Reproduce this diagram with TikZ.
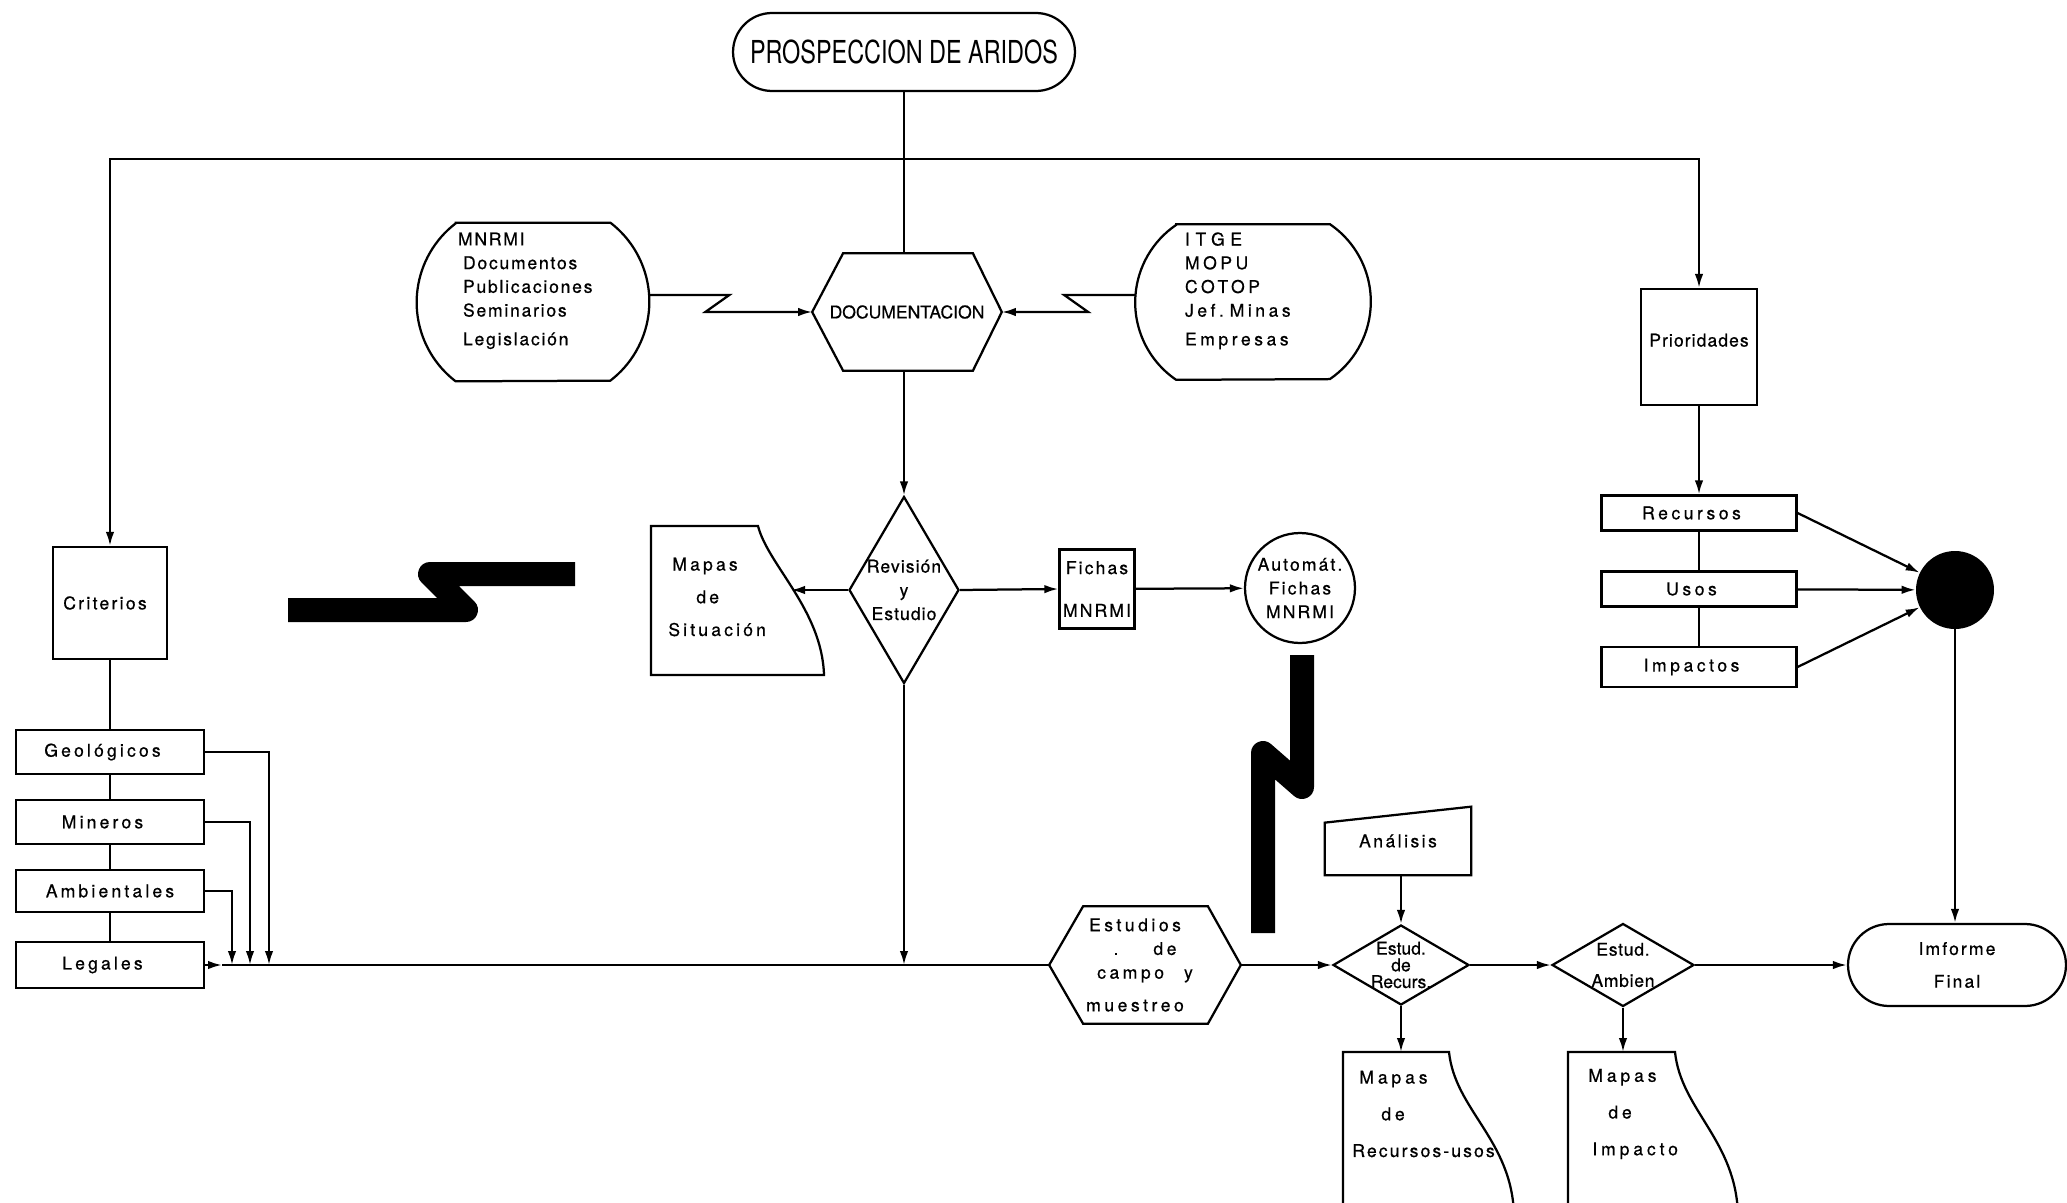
\documentclass[tikz,border=0pt]{standalone}
\usepackage{fontspec}
\setmainfont{TeX Gyre Heros}[FakeBold=0.6]
\newfontfamily\titlefont{TeX Gyre Heros}[FakeStretch=0.74]
\usetikzlibrary{arrows.meta,shapes.geometric,shapes.misc}
\newcommand\lett[1]{\fontsize{10}{13.5}\selectfont\addfontfeatures{LetterSpace=#1}}

\begin{document}
\begin{tikzpicture}[x=0.02cm,y=-0.02cm,
    ln/.style={line width=0.045cm},
    arr/.style={ln,-{Latex[length=0.28cm,width=0.17cm]}},
    blank/.style={rectangle,inner sep=0pt,align=center},
    boxed/.style={draw,ln,rectangle,inner sep=0pt,align=center},
    pill/.style={draw,ln,rounded rectangle,inner sep=0pt,align=center},
    dia/.style={draw,ln,diamond,inner sep=-2pt,align=center},
    maptext/.style={inner sep=0pt,align=left,anchor=west},
    bolt/.style={line width=0.48cm,line join=round}]
    \useasboundingbox (0,0) rectangle (2067,1203);
    \clip (0,0) rectangle (2067,1203);

    % Marking title and top bus
    \node[pill,minimum width=6.84cm,minimum height=1.56cm,font=\titlefont\fontsize{18}{20}\selectfont] (title) at (904,52) {PROSPECCION DE ARIDOS};%
    \coordinate (tee) at (904,159);%

    % Drawing hexagon DOCUMENTACION
    \node[blank,minimum width=3.78cm,minimum height=2.34cm,font=\lett{0}] (doc) at (907,312) {DOCUMENTACION};%
    \draw[ln] (doc.west) -- ([xshift=0.62cm]doc.north west) -- ([xshift=-0.58cm]doc.north east) -- (doc.east)
        -- ([xshift=-0.58cm]doc.south east) -- ([xshift=0.62cm]doc.south west) -- cycle;%
    \draw[ln] (title.south) -- (title.south |- doc.north);%

    % Drawing sources left and right
    \node[blank,minimum width=4.64cm,minimum height=3.16cm,text width=2.8cm,align=left,font=\lett{10}] (srcL) at (533,302)
        {\hspace*{-0.1cm}MNRMI\\Documentos\\Publicaciones\\Seminarios\\[0.1cm]Legislación\\[0.05cm]~};%
    \draw[ln] ([xshift=0.78cm]srcL.north west) -- ([xshift=-0.78cm]srcL.north east) arc[start angle=52.56,end angle=-52.56,radius=1.99cm]
        -- ([xshift=0.78cm]srcL.south west) arc[start angle=232.56,end angle=127.44,radius=1.99cm] -- cycle;%
    \node[blank,minimum width=4.7cm,minimum height=3.1cm,text width=2.72cm,align=left,font=\lett{20}] (srcR) at (1253,302)
        {{\addfontfeatures{LetterSpace=32}ITGE}\\MOPU\\COTOP\\Jef.~Minas\\[0.1cm]Empresas\\[0.05cm]~};%
    \draw[ln] ([xshift=0.82cm]srcR.north west) -- ([xshift=-0.82cm]srcR.north east) arc[start angle=55.75,end angle=-55.75,radius=1.875cm]
        -- ([xshift=0.82cm]srcR.south west) arc[start angle=235.75,end angle=124.25,radius=1.875cm] -- cycle;%
    \draw[arr] ([yshift=0.14cm]srcL.east) -- ++(80,0) -- ++(-24,17) -- (doc.west);%
    \draw[arr] ([yshift=0.14cm]srcR.west) -- ++(-71,0) -- ++(24,17) -- (doc.east);%

    % Drawing Revision, maps and fichas
    \node[dia,aspect=0.59,minimum width=2.2cm,minimum height=3.74cm,font=\lett{6}] (rev) at (904,590) {Revisión\\y\\Estudio};%
    \draw[arr] (doc.south -| rev.north) -- (rev.north);%
    \draw[ln] (651,526) -- (758,526) .. controls (768,565) and (822,610) .. (824,675) -- (651,675) -- cycle;%
    \node[maptext,font=\lett{18}] (sit) at (668,597) {\hspace*{0.08cm}Mapas\\[0.18cm]\hspace*{0.56cm}de\\[0.18cm]Situación};%
    \coordinate (sitIn) at (791,590);%
    \draw[arr] (rev.west) -- (sitIn);%
    \node[boxed,minimum width=1.5cm,minimum height=1.58cm,font=\lett{12}] (fich) at (1097,589) {Fichas\\[0.38cm]MNRMI};%
    \draw[arr] (rev.east) -- (fich.west);%
    \node[draw,ln,circle,minimum size=2.2cm,inner sep=0pt,align=center,font=\lett{12}] (auto) at (1300,588) {Automát.\\Fichas\\MNRMI};%
    \draw[arr] (fich) -- (auto);%

    % Drawing the two bolts
    \draw[bolt] (288,610) -- (466,610) -- (430,574) -- (575,574);%
    \draw[bolt] (1302,655) -- (1302,787) -- (1263,753) -- (1263,933);%

    % Drawing column Criterios
    \node[boxed,minimum width=2.28cm,minimum height=2.24cm,font=\lett{13}] (crit) at (110,603) {Criterios\hspace*{0.2cm}};%
    \node[boxed,minimum width=3.76cm,minimum height=0.88cm,font=\lett{18}] (geo) at (110,752) {Geológicos\hspace*{0.3cm}};%
    \node[boxed,minimum width=3.76cm,minimum height=0.88cm,font=\lett{18}] (mine) at (110,822) {Mineros\hspace*{0.3cm}};%
    \node[boxed,minimum width=3.76cm,minimum height=0.84cm,font=\lett{18}] (amb) at (110,891) {Ambientales};%
    \node[boxed,minimum width=3.76cm,minimum height=0.92cm,font=\lett{18}] (leg) at (110,965) {Legales\hspace*{0.3cm}};%
    \draw[arr] (tee) -| (crit);%
    \draw[ln] (crit) -- (geo);%
    \draw[ln] (geo) -- (mine);%
    \draw[ln] (mine) -- (amb);%
    \draw[ln] (amb) -- (leg);%
    \coordinate (busW) at (222,965);%
    \coordinate (jA) at (232,965);%
    \coordinate (jM) at (250,965);%
    \coordinate (jG) at (269,965);%
    \draw[arr] (geo) -| (jG);%
    \draw[arr] (mine) -| (jM);%
    \draw[arr] (amb) -| (jA);%
    \draw[arr] (leg) -- (busW);%
    \draw[arr] (rev) -- (rev |- busW);%

    % Drawing hexagon Estudios and the chain to Informe
    \node[blank,minimum width=3.82cm,minimum height=2.34cm,font=\lett{20}] (est) at (1145,965)
        {Estudios\hspace*{0.4cm}\\.\hspace{0.7cm}de\hspace*{0.4cm}\\campo\hspace{0.4cm}y\hspace*{0.4cm}\\[0.18cm]muestreo\hspace*{0.4cm}};%
    \draw[ln] (est.west) -- ([xshift=0.68cm]est.north west) -- ([xshift=-0.66cm]est.north east) -- (est.east)
        -- ([xshift=-0.66cm]est.south east) -- ([xshift=0.68cm]est.south west) -- cycle;%
    \draw[ln] (busW) -- (est.west);%
    \node[blank,minimum width=2.92cm,minimum height=1.36cm,font=\lett{14}] (ana) at (1398,841) {Análisis};%
    \draw[ln] (ana.south west) -- (ana.south east) -- (ana.north east) -- ([yshift=-0.32cm]ana.north west) -- cycle;%
    \node[dia,aspect=1.7,minimum width=2.72cm,minimum height=1.6cm,font=\fontsize{10}{9.5}\selectfont] (estR) at (1401,965) {Estud.\\de\\Recurs.};%
    \node[dia,aspect=1.71,minimum width=2.84cm,minimum height=1.66cm,font=\lett{4}] (estA) at (1623,965) {Estud.\\[0.15cm]Ambien};%
    \node[pill,minimum width=4.36cm,minimum height=1.64cm,font=\lett{12}] (inf) at (1957,965) {Imforme\\[0.18cm]Final};%
    \draw[arr] (ana.south -| estR.north) -- (estR.north);%
    \draw[arr] (est) -- (estR);%
    \draw[arr] (estR) -- (estA);%
    \draw[arr] (estA) -- (inf);%

    % Drawing maps of resources and impact
    \draw[ln] (1343,1215) -- (1343,1052) -- (1449,1052) .. controls (1455,1110) and (1512,1140) .. (1514,1215);%
    \node[maptext,font=\lett{22}] (mapR) at (1352,1114)
        {\hspace*{0.14cm}Mapas\\[0.26cm]\hspace*{0.58cm}de\\[0.26cm]{\addfontfeatures{LetterSpace=12}Recursos-usos}};%
    \coordinate (mapRtop) at (1401,1052);%
    \draw[arr] (estR) -- (mapRtop);%
    \draw[ln] (1568,1215) -- (1568,1052) -- (1675,1052) .. controls (1681,1110) and (1736,1140) .. (1738,1215);%
    \node[maptext,font=\lett{22}] (mapI) at (1588,1114) {Mapas\\[0.26cm]\hspace*{0.4cm}de\\[0.26cm]\hspace*{0.08cm}Impacto};%
    \coordinate (mapItop) at (1623,1052);%
    \draw[arr] (estA) -- (mapItop);%

    % Drawing column Prioridades
    \node[boxed,minimum width=2.32cm,minimum height=2.32cm,font=\lett{6}] (prio) at (1699,347) {Prioridades\\[-0.2cm]~};%
    \node[boxed,minimum width=3.9cm,minimum height=0.7cm,font=\lett{20}] (rec) at (1699,513) {Recursos\hspace*{0.3cm}};%
    \node[boxed,minimum width=3.9cm,minimum height=0.7cm,font=\lett{20}] (usos) at (1699,589) {Usos\hspace*{0.3cm}};%
    \node[boxed,minimum width=3.9cm,minimum height=0.8cm,font=\lett{20}] (imp) at (1699,667) {Impactos\hspace*{0.3cm}};%
    \node[circle,fill=black,minimum size=1.56cm,inner sep=0pt] (blk) at (1955,590) {};%
    \draw[arr] (tee) -| (prio);%
    \draw[arr] (prio) -- (rec);%
    \draw[ln] (rec) -- (usos);%
    \draw[ln] (usos) -- (imp);%
    \draw[arr] (rec.east) -- (blk);%
    \draw[arr] (usos) -- (blk);%
    \draw[arr] (imp.east) -- (blk);%
    \draw[arr] (blk) -- (blk |- inf.north);%
\end{tikzpicture}
\end{document}
